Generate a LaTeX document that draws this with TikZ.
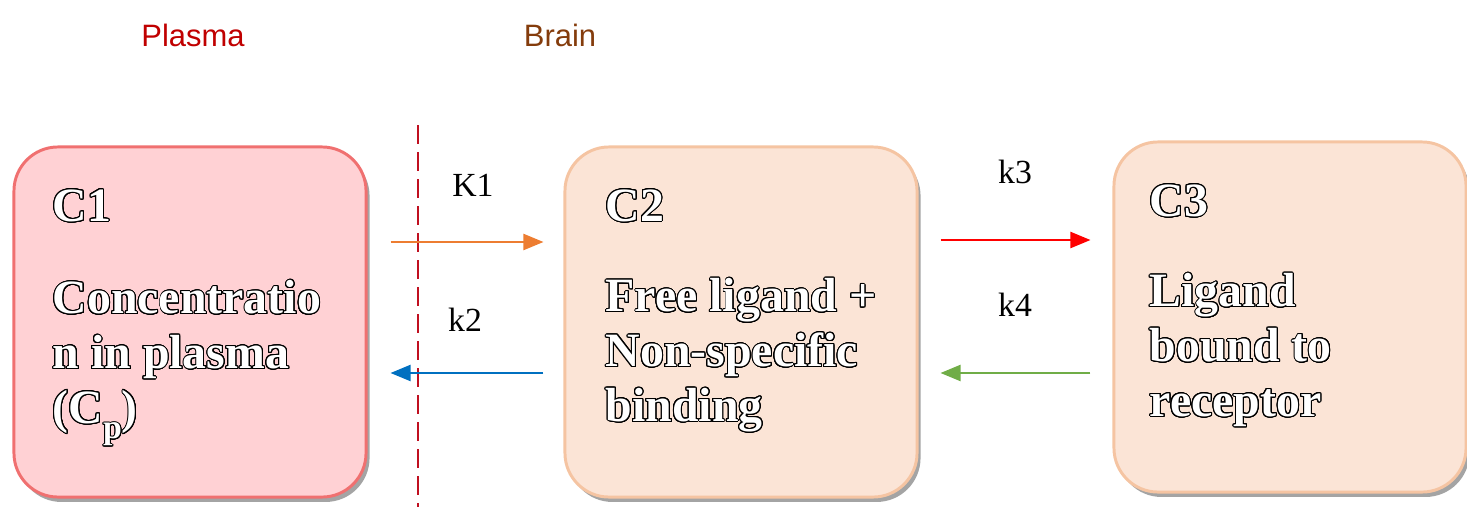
\documentclass[tikz,border=0pt]{standalone}
\usepackage{fontspec}
\setmainfont{Liberation Serif}
\newfontfamily\headfont{Liberation Sans}
\usepackage[copies]{contour}
\contourlength{0.7pt}
\contournumber{24}
\usepackage{tikz}
\usetikzlibrary{arrows.meta}
\usetikzlibrary{calc}
\usetikzlibrary{shadows}
\usetikzlibrary{positioning}
\definecolor{plasmafill}{RGB}{255,209,212}
\definecolor{plasmaline}{RGB}{240,112,112}
\definecolor{brainfill}{RGB}{251,228,214}
\definecolor{brainline}{RGB}{245,196,162}
\definecolor{cutred}{RGB}{192,16,32}
\definecolor{plasmared}{RGB}{192,0,0}
\definecolor{brainbrown}{RGB}{132,60,12}
\definecolor{kone}{RGB}{237,125,49}
\definecolor{ktwo}{RGB}{0,112,192}
\definecolor{kthree}{RGB}{255,0,0}
\definecolor{kfour}{RGB}{112,173,71}
\newcommand{\olt}[1]{\contour{black}{#1}}
\newcommand{\lowsub}[1]{\raisebox{-11pt}{\fontsize{24}{24}\selectfont #1}}

\begin{document}
\begin{tikzpicture}[
            x=0.025cm, y=0.025cm,
            compartment/.style={
                rounded corners=1.1cm, line width=2.1pt,
                minimum width=8.8cm, minimum height=8.75cm,
                drop shadow={shadow xshift=2.5pt, shadow yshift=-3.5pt, fill=black!65, opacity=0.55},
            },
            ctitle/.style={
                anchor=base west, inner sep=0pt, text=white,
                font=\fontsize{34}{39}\selectfont\bfseries,
            },
            cbody/.style={
                anchor=base west, inner sep=0pt, text=white, align=left,
                font=\fontsize{34}{39}\selectfont\bfseries,
            },
            rate/.style={font=\fontsize{24}{28}\selectfont},
            region/.style={font=\headfont\fontsize{22}{26}\selectfont},
            flow/.style={line width=1.5pt, -{Triangle[length=0.5cm, width=0.4cm]}},
        ]
            \useasboundingbox (0,0) rectangle (1467,-507);

            % --- region headings ---
            \node[region, text=plasmared] (plasma) at (193,-35) {Plasma};
            \node[region, text=brainbrown] (brain) at (560,-35) {Brain};

            % --- compartments ---
            \node[compartment, fill=plasmafill, draw=plasmaline] (c1) at (190,-322) {};
            \node[compartment, fill=brainfill, draw=brainline] (c2) at (741,-322) {};
            \node[compartment, fill=brainfill, draw=brainline] (c3) at (1290,-317) {};

            \node[ctitle] (t1) at ($(c1.north west)+(40,-76)$) {\olt{C1}};
            \node[ctitle] (t2) at ($(c2.north west)+(42,-76)$) {\olt{C2}};
            \node[ctitle] (t3) at ($(c3.north west)+(37,-76)$) {\olt{C3}};

            % body nodes: base anchor sits on the last line
            \node[cbody] (b1) at ($(c1.north west)+(40,-278)$)
                {\olt{Concentratio}\\\olt{n in plasma}\\\olt{(C\lowsub{p})}};
            \node[cbody] (b2) at ($(c2.north west)+(42,-276)$)
                {\olt{Free ligand +}\\\olt{Non-specific}\\\olt{binding}};
            \node[cbody] (b3) at ($(c3.north west)+(37,-276)$)
                {\olt{Ligand}\\\olt{bound to}\\\olt{receptor}};

            % --- plasma / brain boundary ---
            \coordinate (cuttop) at (418,-125);
            \coordinate (cutbot) at (418,-507);
            \draw[cutred, line width=1.5pt, dash pattern=on 0.475cm off 0.2cm] (cuttop) -- (cutbot);

            % --- exchange rates ---
            \draw[flow, kone] ($(c1.east)+(23,80)$) -- ($(c2.west)+(-20,80)$);
            \draw[flow, ktwo] ($(c2.west)+(-20,-51)$) -- ($(c1.east)+(23,-51)$);
            \draw[flow, kthree] ($(c2.east)+(22,82)$) -- ($(c3.west)+(-22,77)$);
            \draw[flow, kfour] ($(c3.west)+(-22,-56)$) -- ($(c2.east)+(22,-51)$);

            \node[rate] (lk1) at (473,-185) {K1};
            \node[rate] (lk2) at (465,-320) {k2};
            \node[rate] (lk3) at (1015,-172) {k3};
            \node[rate] (lk4) at (1015,-305) {k4};
        \end{tikzpicture}
\end{document}
